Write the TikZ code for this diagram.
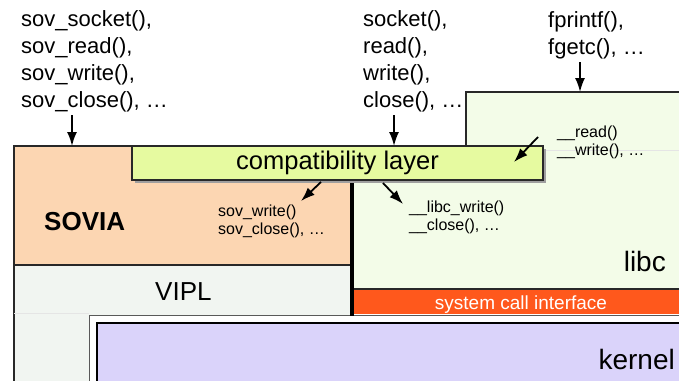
\documentclass[tikz,border=0pt]{standalone}
\usepackage{fontspec}
\setmainfont{Liberation Sans}
\usetikzlibrary{arrows.meta,shadows}
\definecolor{soviac}{RGB}{252,214,178}
\definecolor{viplc}{RGB}{241,245,241}
\definecolor{libcc}{RGB}{243,252,232}
\definecolor{compc}{RGB}{230,250,160}
\definecolor{sysc}{RGB}{255,88,28}
\definecolor{kernc}{RGB}{218,211,250}
\definecolor{edgec}{RGB}{40,40,40}
\tikzset{
  edge/.style={draw=edgec, line width=1.2pt},
  bigtxt/.style={inner sep=0pt, anchor=base west, align=left, font=\fontsize{22}{26.7}\selectfont},
  smalltxt/.style={inner sep=0pt, anchor=base west, align=left, font=\fontsize{16}{18}\selectfont},
  labtxt/.style={inner sep=0pt, font=\fontsize{26}{30}\selectfont},
  arr/.style={line width=1.8pt, -{Latex[length=14pt,width=10pt]}},
  compbox/.style={draw=edgec, line width=1.2pt, fill=compc, minimum width=411pt, minimum height=34pt, inner sep=0pt,
    font=\fontsize{25.5}{30}\selectfont,
    drop shadow={shadow xshift=3pt, shadow yshift=-3pt, fill=gray!75, opacity=1}},
}
\begin{document}
\begin{tikzpicture}[x=1pt,y=-1pt]
\useasboundingbox (0,0) rectangle (679,380);
\clip (0,0) rectangle (679,380);
% VIPL
\fill[viplc] (14,265) rectangle (352,390);
\draw[edge] (14,265) -- (14,390);
% SOVIA
\path[edge, fill=soviac] (14,146) rectangle (352,265);
% libc
\fill[libcc] (466,92) -- (690,92) -- (690,289) -- (352,289) -- (352,146) -- (466,146) -- cycle;
\draw[edge] (466,146) -- (466,92) -- (690,92);
% system call interface
\fill[sysc] (352,289) rectangle (690,314);
\draw[edge] (352,289) -- (690,289);
% faint lines
\draw[gray!20, line width=0.6pt] (543,150) -- (690,150);
\draw[gray!20, line width=0.6pt] (14,313) -- (89,313);
% white frame and kernel
\path[draw=gray!70!black, line width=1pt, fill=white] (89,315) rectangle (690,400);
\path[draw=black, line width=1.3pt, fill=kernc] (97,323) rectangle (690,400);
% thick separator
\draw[line width=4pt] (352,183) -- (352,316);
% compatibility layer
\node[compbox] (compat) at (337.5,163) {compatibility layer};

% texts (base anchor = last line baseline)
\node[bigtxt] (sovapi) at (21,107) {sov\_socket(),\\sov\_read(),\\sov\_write(),\\sov\_close(), …};
\node[bigtxt] (posix) at (363,107) {socket(),\\read(),\\write(),\\close(), …};
\node[bigtxt] (stdio) at (548,54) {fprintf(),\\fgetc(), …};
\node[smalltxt] (sovint) at (218,234) {sov\_write()\\sov\_close(), …};
\node[smalltxt] (libcint) at (409,230) {\_\_libc\_write()\\\_\_close(), …};
\node[smalltxt] (rdint) at (557,155) {\_\_read()\\\_\_write(), …};
\node[labtxt, anchor=base west, font=\fontsize{26}{30}\selectfont\bfseries] (sovia) at (44,230) {SOVIA};
\node[labtxt, anchor=base west] (vipl) at (155,300) {VIPL};
\node[labtxt, anchor=base east, font=\fontsize{28}{30}\selectfont] (libc) at (666,271) {libc};
\node[labtxt, anchor=base east, font=\fontsize{28}{30}\selectfont] (kernel) at (675,369) {kernel};
\node[inner sep=0pt, anchor=base, text=white, font=\fontsize{19}{22}\selectfont] (syscall) at (521,309) {system call interface};

% arrows
\coordinate (sovtail) at (72,115);
\coordinate (sovhead) at (72,146);
\coordinate (posixtail) at (394,115);
\coordinate (posixhead) at (394,146);
\coordinate (stdiotail) at (580,62);
\coordinate (stdiohead) at (580,92);
\coordinate (rdtail) at (538,137);
\coordinate (rdhead) at (514,162);
\coordinate (c1tail) at (321,182);
\coordinate (c1head) at (301,201);
\coordinate (c2tail) at (383,183);
\coordinate (c2head) at (403,204);
\draw[arr] (sovtail) -- (sovhead);
\draw[arr] (posixtail) -- (posixhead);
\draw[arr] (stdiotail) -- (stdiohead);
\draw[arr] (rdtail) -- (rdhead);
\draw[arr] (c1tail) -- (c1head);
\draw[arr] (c2tail) -- (c2head);
\end{tikzpicture}
\end{document}
